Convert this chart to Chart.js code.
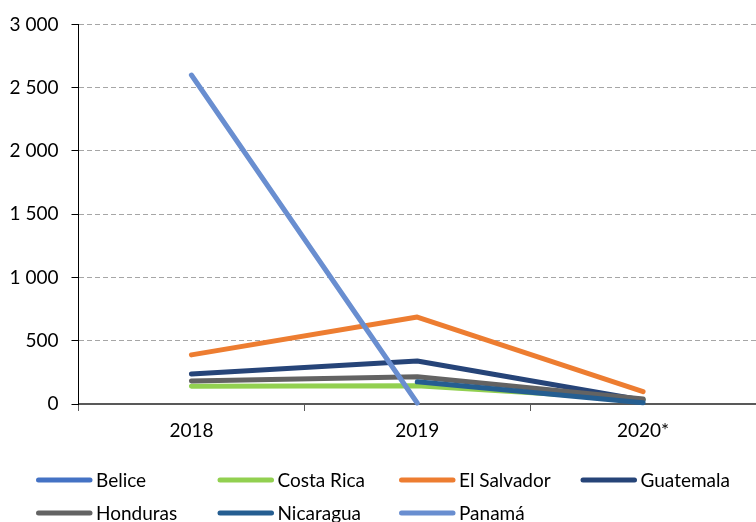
<!DOCTYPE html>
<html>
<head>
<meta charset="utf-8">
<script src="https://cdn.jsdelivr.net/npm/chart.js@4/dist/chart.umd.min.js"></script>
<style>
  html, body { margin: 0; padding: 0; background: #ffffff; }
  #wrap { width: 756px; height: 522px; overflow: hidden; }
</style>
</head>
<body>
<div id="wrap"><canvas id="c" width="756" height="522"></canvas></div>
<script>
const categories = ['2018', '2019', '2020*'];
const seriesNames = ['Belice', 'Costa Rica', 'El Salvador', 'Guatemala', 'Honduras', 'Nicaragua', 'Panamá'];
const belice     = [null, null, null];
const costaRica  = [140, 145, 35];
const elSalvador = [388, 687, 97];
const guatemala  = [237, 340, 30];
const honduras   = [182, 215, 40];
const nicaragua  = [null, 175, 10];
const panama     = [2600, 8, null];
const yTickValues = [0, 500, 1000, 1500, 2000, 2500, 3000];

const seriesValues = [belice, costaRica, elSalvador, guatemala, honduras, nicaragua, panama];
const seriesColors = ['#4472C4', '#92D050', '#ED7D31', '#264478', '#636363', '#255E91', '#698ED0'];

const FONT = 'Lato, "Open Sans", sans-serif';
const fmt = v => String(v).replace(/\B(?=(\d{3})+(?!\d))/g, ' ');

const datasets = seriesNames.map((name, i) => ({
  label: name,
  data: seriesValues[i],
  borderColor: seriesColors[i],
  backgroundColor: seriesColors[i],
  borderWidth: 5,
  borderCapStyle: 'round',
  borderJoinStyle: 'round',
  pointRadius: 0,
  pointHoverRadius: 0,
  tension: 0,
  spanGaps: false,
  clip: false,
  order: seriesNames.length - 1 - i
}));

const gridLegend = {
  id: 'gridLegend',
  afterDraw(chart) {
    const ctx = chart.ctx;
    ctx.save();
    ctx.font = '19px ' + FONT;
    ctx.textBaseline = 'middle';
    ctx.textAlign = 'left';
    chart.data.datasets.forEach((ds, i) => {
      const col = i % 4, row = Math.floor(i / 4);
      const x = 36 + col * 181.5;
      const y = row === 0 ? 480 : 513;
      ctx.strokeStyle = ds.borderColor;
      ctx.lineWidth = 5;
      ctx.lineCap = 'round';
      ctx.beginPath();
      ctx.moveTo(x + 2.5, y);
      ctx.lineTo(x + 54, y);
      ctx.stroke();
      ctx.fillStyle = '#000000';
      ctx.fillText(ds.label, x + 60, y + 1);
    });
    ctx.restore();
  }
};

new Chart(document.getElementById('c'), {
  type: 'line',
  data: { labels: categories, datasets },
  options: {
    responsive: false,
    devicePixelRatio: 1,
    animation: false,
    layout: { padding: { top: 23, right: -5, left: 0, bottom: 0 } },
    plugins: { legend: { display: false }, tooltip: { enabled: false }, title: { display: false } },
    scales: {
      x: {
        type: 'category',
        offset: true,
        afterFit(scale) { scale.height = 118; },
        grid: { drawOnChartArea: false, drawTicks: true, tickLength: 7, tickColor: '#595959', offset: true },
        border: { display: true, color: '#595959', width: 2 },
        ticks: { color: '#000000', font: { family: FONT, size: 19 }, padding: 8, maxRotation: 0 }
      },
      y: {
        min: 0, max: 3000,
        afterFit(scale) { scale.width = 78.5; },
        afterBuildTicks(scale) { scale.ticks = yTickValues.map(v => ({ value: v })); },
        grid: { color: '#A6A6A6', lineWidth: 1, tickColor: '#000000', tickBorderDash: [], tickLength: 7, drawTicks: true },
        border: { display: true, color: '#000000', width: 1, dash: [5, 3] },
        ticks: { color: '#000000', font: { family: FONT, size: 19 }, padding: 13, callback: v => fmt(v) }
      }
    }
  },
  plugins: [gridLegend]
});
</script>
</body>
</html>
